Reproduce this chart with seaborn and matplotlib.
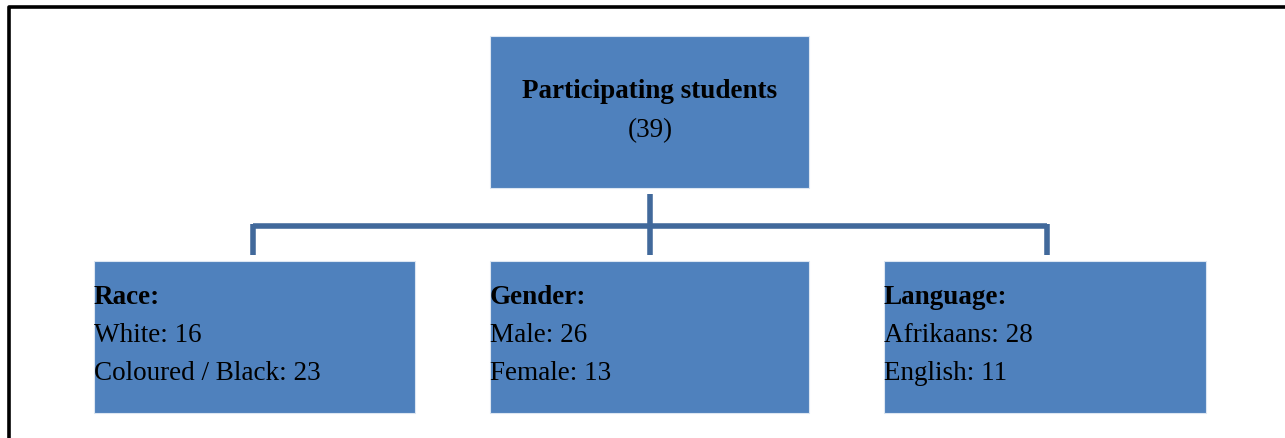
"""Participant breakdown tree diagram."""

import matplotlib.pyplot as plt
from matplotlib.patches import Rectangle
import seaborn as sns

# data
ROOT_TITLE = "Participating students"
ROOT_TOTAL = 39
GROUPS = ["Race", "Gender", "Language"]
RACE_LABELS = ["White", "Coloured / Black"]
RACE_COUNTS = [16, 23]
GENDER_LABELS = ["Male", "Female"]
GENDER_COUNTS = [26, 13]
LANGUAGE_LABELS = ["Afrikaans", "English"]
LANGUAGE_COUNTS = [28, 11]

BOX_COLOR = "#4F81BD"
LINE_COLOR = "#41699B"

sns.set_theme(style="white")
plt.rcParams["font.family"] = ["Liberation Serif", "DejaVu Serif"]
plt.rcParams["text.color"] = "black"

fig = plt.figure(figsize=(12.85, 4.38), dpi=100)
ax = fig.add_axes([0, 0, 1, 1])
ax.set_xlim(0, 1285)
ax.set_ylim(438, 0)
ax.axis("off")

# outer frame (top and left edges only are visible)
ax.plot([9, 9, 1285], [438, 7, 7], color="black", lw=2.6, solid_capstyle="butt")

# root box
ax.add_patch(Rectangle((490, 36), 319, 152, facecolor=BOX_COLOR,
                       edgecolor="#DCE6F2", lw=0.8))
ax.text(650, 92, ROOT_TITLE, ha="center", va="center", fontsize=19.5,
        fontweight="bold")
ax.text(650, 131, f"({ROOT_TOTAL})", ha="center", va="center", fontsize=19.5)

# connectors
lw = 4.0
ax.plot([650, 650], [194, 255], color=LINE_COLOR, lw=lw, solid_capstyle="butt")
ax.plot([253, 1047], [226, 226], color=LINE_COLOR, lw=lw, solid_capstyle="butt")
for cx in [253, 1047]:
    ax.plot([cx, cx], [224, 255], color=LINE_COLOR, lw=lw, solid_capstyle="butt")

# child boxes
lefts = [94, 490, 884]
widths = [321, 319, 322]
details = [
    (RACE_LABELS, RACE_COUNTS),
    (GENDER_LABELS, GENDER_COUNTS),
    (LANGUAGE_LABELS, LANGUAGE_COUNTS),
]
for x0, w, name, (labels, counts) in zip(lefts, widths, GROUPS, details):
    ax.add_patch(Rectangle((x0, 261), w, 152, facecolor=BOX_COLOR,
                           edgecolor="#DCE6F2", lw=0.8))
    ax.text(x0, 298, f"{name}:", ha="left", va="center", fontsize=19.5,
            fontweight="bold")
    for i, (lab, n) in enumerate(zip(labels, counts)):
        ax.text(x0, 336 + 38 * i, f"{lab}: {n}", ha="left", va="center",
                fontsize=19.5)

fig.savefig("out.png", dpi=100)
plt.close(fig)
